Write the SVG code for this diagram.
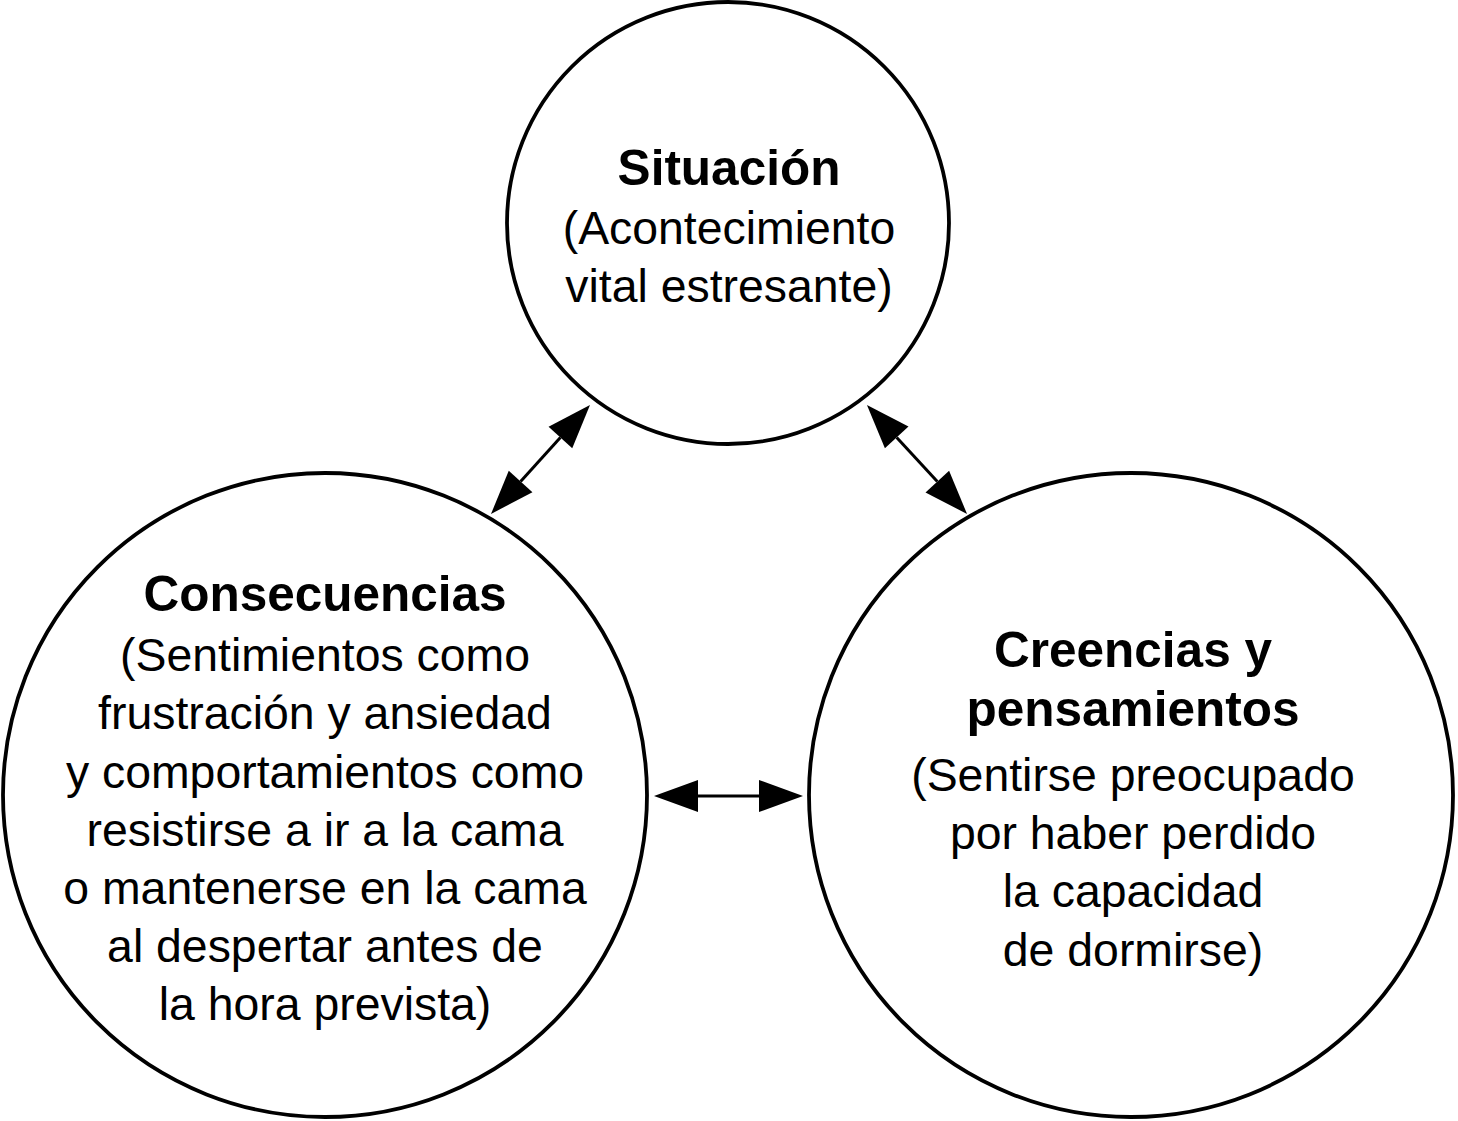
<svg xmlns="http://www.w3.org/2000/svg" width="1458" height="1121" viewBox="0 0 1458 1121">
<style>
.c{fill:#fff;stroke:#000;stroke-width:3.8}
.t{font-family:"Liberation Sans",Arial,sans-serif;font-size:46.4px;fill:#000;text-anchor:middle}
.b{font-weight:bold;font-size:49.5px}
.a{stroke:#000;stroke-width:3;fill:none;marker-start:url(#ah);marker-end:url(#ah)}
</style>
<defs>
<marker id="ah" markerUnits="userSpaceOnUse" viewBox="0 -17 46 34" markerWidth="46" markerHeight="34" refX="0" refY="0" orient="auto-start-reverse" overflow="visible">
<path d="M0,-16 L44,0 L0,16 Z" fill="#000"/>
</marker>
</defs>
<rect width="1458" height="1121" fill="#fff"/>
<g id="situacion">
<circle class="c" cx="728" cy="223" r="221"/>
<text class="t b" x="729" y="185">Situación</text>
<text class="t" x="729" y="244">(Acontecimiento</text>
<text class="t" x="729" y="302">vital estresante)</text>
</g>
<g id="consecuencias">
<circle class="c" cx="325" cy="795" r="322"/>
<text class="t b" x="325" y="611">Consecuencias</text>
<text class="t" x="325" y="671">(Sentimientos como</text>
<text class="t" x="325" y="729">frustración y ansiedad</text>
<text class="t" x="325" y="788">y comportamientos como</text>
<text class="t" x="325" y="846">resistirse a ir a la cama</text>
<text class="t" x="325" y="904">o mantenerse en la cama</text>
<text class="t" x="325" y="962">al despertar antes de</text>
<text class="t" x="325" y="1020">la hora prevista)</text>
</g>
<g id="creencias">
<circle class="c" cx="1131" cy="795" r="322"/>
<text class="t b" x="1133" y="667">Creencias y</text>
<text class="t b" x="1133" y="726">pensamientos</text>
<text class="t" x="1133" y="791">(Sentirse preocupado</text>
<text class="t" x="1133" y="849">por haber perdido</text>
<text class="t" x="1133" y="907">la capacidad</text>
<text class="t" x="1133" y="966">de dormirse)</text>
</g>
<g id="connectors">
<line class="a" x1="520.6" y1="481.4" x2="560.4" y2="437.6"/>
<line class="a" x1="896.7" y1="437.4" x2="937.3" y2="481.6"/>
<line class="a" x1="698" y1="796" x2="759" y2="796"/>
</g>
</svg>
